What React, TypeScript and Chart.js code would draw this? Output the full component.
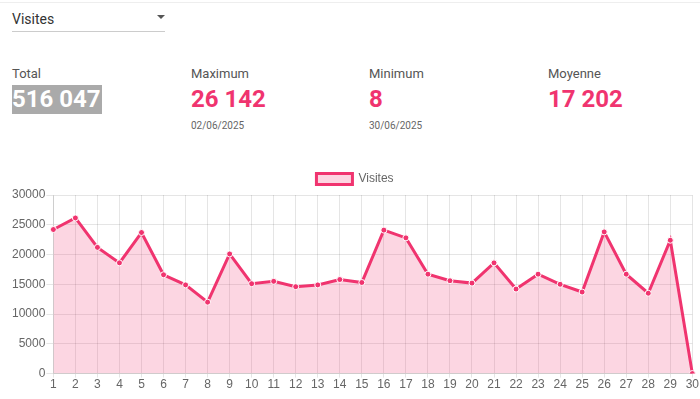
import React, { useEffect, useRef } from "react";
import { Chart, registerables } from "chart.js";

Chart.register(...registerables);

const days = ["1","2","3","4","5","6","7","8","9","10","11","12","13","14","15","16","17","18","19","20","21","22","23","24","25","26","27","28","29","30"];
const visits = [24200,26142,21200,18600,23700,16600,14900,12000,20100,15100,15500,14600,14900,15800,15300,24100,22800,16700,15600,15200,18600,14200,16700,15000,13700,23800,16700,13500,22400,8];
const statLabels = ["Total","Maximum","Minimum","Moyenne"];
const statValues = ["516 047","26 142","8","17 202"];
const statDates = ["","02/06/2025","30/06/2025",""];

const PINK = "rgb(240, 52, 111)";
const PINK_FILL = "rgba(240, 52, 111, 0.2)";

export default function App() {
  const ref = useRef<HTMLCanvasElement | null>(null);
  useEffect(() => {
    if (!ref.current) return;
    const chart = new Chart(ref.current, {
      type: "line",
      data: {
        labels: days,
        datasets: [{
          label: "Visites",
          data: visits,
          borderColor: PINK,
          backgroundColor: PINK_FILL,
          fill: true,
          borderWidth: 3,
          tension: 0,
          pointRadius: 3,
          pointBackgroundColor: PINK,
          pointBorderColor: "#fff",
          pointBorderWidth: 1,
        }],
      },
      options: {
        animation: false,
        responsive: true,
        maintainAspectRatio: false,
        plugins: {
          legend: {
            labels: { boxWidth: 36, boxHeight: 11, color: "#666", font: { family: "Liberation Sans, Arial", size: 12 } },
          },
          tooltip: { enabled: false },
        },
        scales: {
          x: {
            grid: { color: "rgba(0,0,0,0.1)", tickLength: 4 },
            ticks: { padding: 0, color: "#666", font: { family: "Liberation Sans, Arial", size: 12 }, maxRotation: 0, autoSkip: false },
          },
          y: {
            min: 0,
            max: 30000,
            grid: { color: "rgba(0,0,0,0.1)", tickLength: 7 },
            ticks: { padding: 1, stepSize: 5000, color: "#666", font: { family: "Liberation Sans, Arial", size: 12 }, callback: (v: any) => String(v) },
          },
        },
      },
    });
    return () => chart.destroy();
  }, []);

  const colLeft = [12, 191, 369, 548];
  return (
    <div style={{ position: "absolute", left: 0, top: 0, width: 700, height: 399, background: "#fff", fontFamily: "Roboto, sans-serif", overflow: "hidden" }}>
      <div style={{ position: "absolute", left: 0, top: 2, width: 700, height: 1, background: "#eee" }} />
      <div style={{ position: "absolute", left: 12, top: 9, fontSize: 14, color: "#333", lineHeight: "20px" }}>Visites</div>
      <div style={{ position: "absolute", left: 157, top: 15, width: 0, height: 0, borderLeft: "4px solid transparent", borderRight: "4px solid transparent", borderTop: "4px solid #555" }} />
      <div style={{ position: "absolute", left: 12, top: 31, width: 153, height: 1, background: "#ccc" }} />
      {statLabels.map((l, i) => (
        <div key={l} style={{ position: "absolute", left: colLeft[i], top: 65 }}>
          <div style={{ fontSize: 13, color: "#555", lineHeight: "17px" }}>{l}</div>
          <div style={{ marginTop: 3, fontSize: 24, fontWeight: 700, lineHeight: "29px", color: i === 0 ? "#fff" : PINK, background: i === 0 ? "#aaa" : "transparent", display: "inline-block", paddingRight: i === 0 ? 1 : 0 }}>{statValues[i]}</div>
          <div style={{ marginTop: 6, fontSize: 10, color: "#666", lineHeight: "12px" }}>{statDates[i]}</div>
        </div>
      ))}
      <div style={{ position: "absolute", left: 11, top: 163, width: 688, height: 229 }}>
        <canvas ref={ref} />
      </div>
    </div>
  );
}
